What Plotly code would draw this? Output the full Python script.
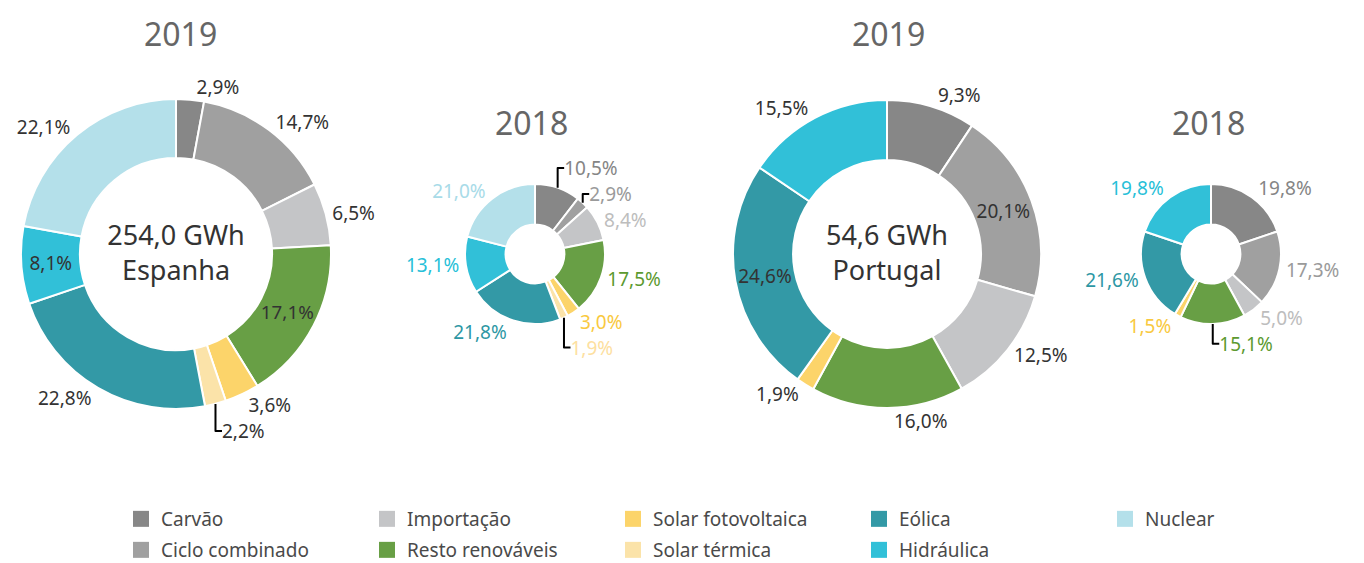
import plotly.graph_objects as go

# categories in slice order (clockwise from 12 o'clock)
categories = ["Carvão", "Ciclo combinado", "Importação", "Resto renováveis",
              "Solar fotovoltaica", "Solar térmica", "Eólica", "Hidráulica", "Nuclear"]

# share of generation (%)
spain_2019 = [2.9, 14.7, 6.5, 17.1, 3.6, 2.2, 22.8, 8.1, 22.1]
spain_2018 = [10.5, 2.9, 8.4, 17.5, 3.0, 1.9, 21.8, 13.1, 21.0]
portugal_2019 = [9.3, 20.1, 12.5, 16.0, 1.9, 0.0, 24.6, 15.5, 0.0]
portugal_2018 = [19.8, 17.3, 5.0, 15.1, 1.5, 0.0, 21.6, 19.8, 0.0]

center_labels = ["254,0 GWh<br>Espanha", "54,6 GWh<br>Portugal"]
year_labels = ["2019", "2018", "2019", "2018"]

# legend rows (the original fills the legend column by column)
legend_row1 = ["Carvão", "Importação", "Solar fotovoltaica", "Eólica", "Nuclear"]
legend_row2 = ["Ciclo combinado", "Resto renováveis", "Solar térmica", "Hidráulica"]

slice_colors = {
    "Carvão": "#878787",
    "Ciclo combinado": "#a0a0a0",
    "Importação": "#c4c5c7",
    "Resto renováveis": "#689f45",
    "Solar fotovoltaica": "#fcd46a",
    "Solar térmica": "#fbe3a9",
    "Eólica": "#3399a6",
    "Hidráulica": "#31c0d8",
    "Nuclear": "#b4e0ea",
}

label_colors_small = {
    "Carvão": "#858585",
    "Ciclo combinado": "#9a9a9a",
    "Importação": "#bdbdbd",
    "Resto renováveis": "#5c9a30",
    "Solar fotovoltaica": "#f9c940",
    "Solar térmica": "#fde0a0",
    "Eólica": "#2d97a4",
    "Hidráulica": "#27bfd8",
    "Nuclear": "#a8dbe8",
}

FONT = "Noto Sans"
W, H = 1364, 563


def px_x(x):
    return x / W


def px_y(y):
    return 1 - y / H


def domain(cx, cy, r):
    return dict(x=[px_x(cx - r), px_x(cx + r)], y=[px_y(cy + r), px_y(cy - r)])


def donut(values, dom, hole, big, title=None, inside=()):
    labs = [c for c, v in zip(categories, values) if v > 0]
    vals = [v for v in values if v > 0]
    if big:
        tcol = ["#333333"] * len(labs)
    else:
        tcol = [label_colors_small[c] for c in labs]
    tpos = ["inside" if c in inside else "outside" for c in labs]
    return go.Pie(
        labels=labs,
        values=vals,
        sort=False,
        direction="clockwise",
        rotation=0,
        hole=hole,
        domain=dom,
        marker=dict(colors=[slice_colors[c] for c in labs],
                    line=dict(color="white", width=2)),
        texttemplate="%{value:.1f}%",
        textposition=tpos,
        insidetextorientation="horizontal",
        textfont=dict(family=FONT, size=19, color=tcol),
        title=dict(text=title, position="middle center",
                   font=dict(family=FONT, size=27, color="#333333")) if title else None,
        showlegend=False,
        hoverinfo="label+value",
    )


fig = go.Figure()
fig.add_trace(donut(spain_2019, domain(176, 254, 155), 0.62, True, center_labels[0],
                    inside=("Resto renováveis", "Hidráulica")))
fig.add_trace(donut(spain_2018, domain(535, 254, 70), 0.42, False))
fig.add_trace(donut(portugal_2019, domain(887, 254, 154), 0.61, True, center_labels[1],
                    inside=("Ciclo combinado", "Eólica")))
fig.add_trace(donut(portugal_2018, domain(1211, 254, 70), 0.42, False))

# legend entries, one legend per row
for row, leg in ((legend_row1, "legend"), (legend_row2, "legend2")):
    for c in row:
        fig.add_trace(go.Scatter(
            x=[None], y=[None], mode="markers", name=c, legend=leg,
            marker=dict(symbol="square", size=17, color=slice_colors[c]),
            showlegend=True, hoverinfo="skip",
        ))

title_pos = [(180, 33), (531, 122), (888, 33), (1208, 122)]
for txt, (tx, ty) in zip(year_labels, title_pos):
    fig.add_annotation(text=txt, x=px_x(tx), y=px_y(ty), xref="paper", yref="paper",
                       xanchor="center", yanchor="middle", showarrow=False,
                       font=dict(family=FONT, size=32, color="#666666"))

legend_style = dict(
    orientation="h",
    x=px_x(121), xanchor="left",
    yanchor="middle",
    entrywidth=201, entrywidthmode="pixels",
    font=dict(family=FONT, size=19, color="#4a4a4a"),
    itemsizing="trace",
    bgcolor="rgba(0,0,0,0)",
)

fig.update_layout(
    width=W, height=H,
    margin=dict(l=0, r=0, t=0, b=0, autoexpand=False),
    paper_bgcolor="white",
    plot_bgcolor="white",
    separators=", ",
    xaxis=dict(visible=False),
    yaxis=dict(visible=False),
    legend=dict(legend_style, y=px_y(519)),
    legend2=dict(legend_style, y=px_y(550)),
)

# drop the default body margin so the figure fills the window exactly
fig.write_html("out.html", config={"displayModeBar": False},
               post_script="document.body.style.margin = '0';")
